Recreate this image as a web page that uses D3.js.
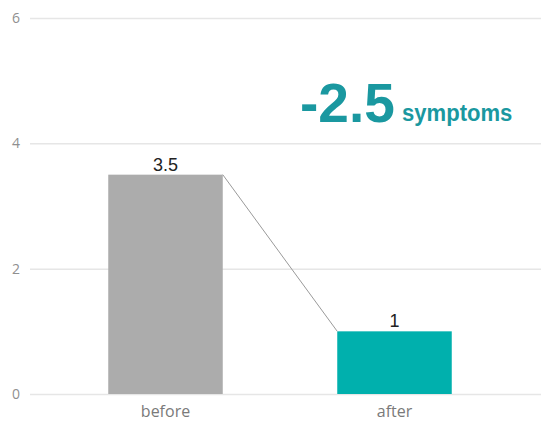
<!DOCTYPE html>
<html>
<head>
<meta charset="utf-8">
<script src="https://cdn.jsdelivr.net/npm/d3@7"></script>
<style>
  html, body { margin: 0; padding: 0; background: #fff; }
  svg { display: block; }
</style>
</head>
<body>
<svg id="chart" width="541" height="426"></svg>
<script>
// Chart data
const categories = ["before", "after"];
const values = [3.5, 1];
const yTicks = [0, 2, 4, 6];
const changeValue = -2.5;
const changeUnit = "symptoms";

const barColors = ["#acacac", "#00b0ad"];
const accent = "#1a98a0";

const svg = d3.select("#chart");

const y = d3.scaleLinear().domain([0, 6]).range([394, 18]);
const x = d3.scaleBand()
  .domain(categories)
  .range([51, 509])
  .paddingInner(0.5)
  .paddingOuter(0.25);

// Horizontal gridlines with tick labels
const yAxis = d3.axisLeft(y).tickValues(yTicks).tickFormat(d3.format("d")).tickSize(-511).tickPadding(10);
const gy = svg.append("g").attr("transform", "translate(30,0)").call(yAxis);
gy.select(".domain").remove();
gy.selectAll(".tick line").attr("stroke", "#e6e6e6").attr("stroke-width", 1.5);
gy.selectAll(".tick text")
  .attr("fill", "#8f8f8f")
  .style("font-family", "'Open Sans', sans-serif")
  .style("font-size", "14px");

// Bars
const data = categories.map((c, i) => ({ cat: c, val: values[i], color: barColors[i] }));
svg.append("g").selectAll("rect")
  .data(data)
  .join("rect")
  .attr("x", d => x(d.cat))
  .attr("y", d => y(d.val))
  .attr("width", x.bandwidth())
  .attr("height", d => y(0) - y(d.val))
  .attr("fill", d => d.color);

// Connector from the first bar's top-right corner to the second bar's top-left corner
svg.append("line")
  .attr("x1", x(categories[0]) + x.bandwidth())
  .attr("y1", y(values[0]))
  .attr("x2", x(categories[1]))
  .attr("y2", y(values[1]))
  .attr("stroke", "#9a9a9a")
  .attr("stroke-width", 1);

// Value labels above bars
svg.append("g").selectAll("text")
  .data(data)
  .join("text")
  .attr("x", d => x(d.cat) + x.bandwidth() / 2)
  .attr("y", d => y(d.val) - 4)
  .attr("text-anchor", "middle")
  .attr("fill", "#222")
  .style("font-family", "'Liberation Sans', Arial, sans-serif")
  .style("font-size", "18px")
  .text(d => d.val);

// Category labels
const gx = svg.append("g").attr("transform", `translate(0,${y(0)})`)
  .call(d3.axisBottom(x).tickSize(0).tickPadding(12));
gx.select(".domain").remove();
gx.selectAll(".tick text")
  .attr("fill", "#7a7a7a")
  .style("font-family", "'Open Sans', sans-serif")
  .style("font-size", "16px");

// Change annotation: large number followed by the unit
svg.append("text")
  .attr("x", 300)
  .attr("y", 122)
  .attr("fill", accent)
  .style("font-family", "'Liberation Sans', Arial, sans-serif")
  .style("font-weight", "bold")
  .style("font-size", "55px")
  .text(changeValue);
svg.append("text")
  .attr("transform", "translate(402,121) scale(0.92,1)")
  .attr("fill", accent)
  .style("font-family", "'Liberation Sans', Arial, sans-serif")
  .style("font-weight", "bold")
  .style("font-size", "24px")
  .text(changeUnit);
</script>
</body>
</html>
